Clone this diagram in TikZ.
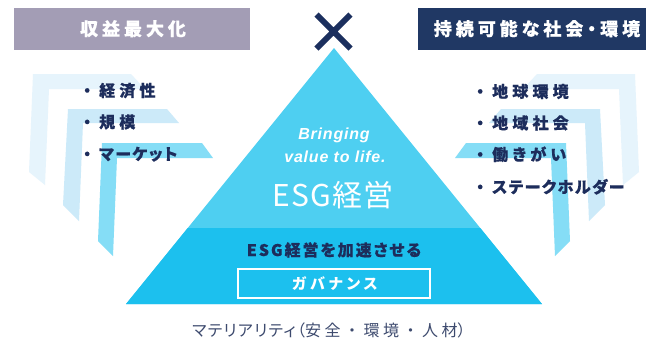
\documentclass[tikz,border=0pt]{standalone}
\usepackage{fontspec}
\newfontfamily\jpH[LetterSpace=22,RawFeature=+palt,BoldFeatures={FakeBold=0.5}]{Noto Sans CJK JP}
\newfontfamily\jpB[LetterSpace=26,BoldFeatures={FakeBold=0.5}]{Noto Sans CJK JP}
\newfontfamily\jpIk[LetterSpace=26,RawFeature=+palt,BoldFeatures={FakeBold=0.5}]{Noto Sans CJK JP}
\newfontfamily\jpIa[LetterSpace=9,RawFeature=+palt,BoldFeatures={FakeBold=0.5}]{Noto Sans CJK JP}
\newfontfamily\jpM[LetterSpace=12,RawFeature=+palt,BoldFeatures={FakeBold=0.4}]{Noto Sans CJK JP}
\newfontfamily\jpG[LetterSpace=25,RawFeature=+palt]{Noto Sans CJK JP}
\newfontfamily\jpE[LetterSpace=4]{Noto Sans CJK JP}
\newfontfamily\jpLa[LetterSpace=8,RawFeature=+palt]{Noto Sans CJK JP}
\newfontfamily\jpLb[LetterSpace=22]{Noto Sans CJK JP}
\newfontfamily\latf[LetterSpace=5]{Liberation Sans}
\definecolor{hdrgray}{HTML}{A39DB5}
\definecolor{hdrnavy}{HTML}{203864}
\definecolor{navy}{HTML}{1D2D5C}
\definecolor{xnavy}{HTML}{1B2F5E}
\definecolor{triup}{HTML}{4ECFF1}
\definecolor{trilow}{HTML}{1CC0EE}
\definecolor{bandA}{HTML}{E6F4FC}
\definecolor{bandB}{HTML}{CCEAF9}
\definecolor{bandC}{HTML}{85DDF6}
\definecolor{bottxt}{HTML}{3D4A6E}
\newcommand\itk[1]{{\jpB ・}\hspace{4pt}\jpIk #1}
\newcommand\ita[1]{{\jpB ・}\hspace{4pt}\jpIa #1}
\tikzset{
  hdr/.style={anchor=base, text=white, inner sep=0, font=\jpH\bfseries\fontsize{18}{20}\selectfont},
  item/.style={anchor=base west, text=navy, inner sep=0, font=\jpB\bfseries\fontsize{16}{18}\selectfont},
  slogan/.style={anchor=base, text=white, inner sep=0, font=\latf\bfseries\itshape\fontsize{16}{18}\selectfont},
}
\begin{document}
\begin{tikzpicture}[x=1pt,y=-1pt]
\useasboundingbox (0,0) rectangle (646,341);
\fill[white] (0,0) rectangle (646,341);
% headers
\fill[hdrgray] (14,8) rectangle (250,50);
\fill[hdrnavy] (418,8) rectangle (646,50);
\node[hdr] (hL) at (133,35.5) {収益最大化};
\node[hdr] (hR) at (537,35.5) {持続可能な社会・環境};
% bands left
\fill[bandA] (33,74) -- (131,74) -- (145,89) -- (49,89) -- (45,185) -- (29,172) -- cycle;
\fill[bandB] (68,109) -- (167,109) -- (179,123) -- (83,123) -- (79,221) -- (63,205) -- cycle;
\fill[bandC] (102,143) -- (202,143) -- (213,158) -- (117,158) -- (113,256) -- (98,241) -- cycle;
% bands right (mirrored)
\begin{scope}[xshift=668pt, xscale=-1]
\fill[bandA] (33,74) -- (131,74) -- (145,89) -- (49,89) -- (45,185) -- (29,172) -- cycle;
\fill[bandB] (68,109) -- (167,109) -- (179,123) -- (83,123) -- (79,221) -- (63,205) -- cycle;
\fill[bandC] (102,143) -- (202,143) -- (213,158) -- (117,158) -- (113,256) -- (98,241) -- cycle;
\end{scope}
% cross
\draw[xnavy, line width=6pt] (316.5,14.5) -- (350.5,48.5) (350.5,14.5) -- (316.5,48.5);
% pyramid
\fill[triup] (334,48) -- (542,304) -- (126,304) -- cycle;
\fill[trilow] (187.75,228) -- (480.25,228) -- (542,304) -- (126,304) -- cycle;
% pyramid texts
\node[slogan] (s1) at (334,139) {Bringing};
\node[slogan] (s2) at (335,162) {value to life.};
\node[anchor=base, text=white, inner sep=0, font=\jpE\fontsize{30}{32}\selectfont] (esg) at (333,206) {ESG経営};
\node[anchor=base, text=navy, inner sep=0, font=\jpM\bfseries\fontsize{16}{18}\selectfont] (acc) at (334,256) {ESG経営を加速させる};
\draw[white, line width=1.3pt] (238,269) rectangle (430,298);
\node[anchor=base, text=white, inner sep=0, font=\jpG\bfseries\fontsize{15}{18}\selectfont] (gov) at (335,289) {ガバナンス};
\node[anchor=base west, text=bottxt, inner sep=0, font=\fontsize{16}{18}\selectfont] (mat) at (192,336.5) {{\jpLa マテリアリティ（}{\jpLb 安全・環境・人材}{\jpLa ）}};
% lists
\node[item] (l1) at (79,96.5) {\itk{経済性}};
\node[item] (l2) at (79,128) {\itk{規模}};
\node[item] (l3) at (79,160) {\ita{マーケット}};
\node[item] (r1) at (472,97.5) {\itk{地球環境}};
\node[item] (r2) at (472,129) {\itk{地域社会}};
\node[item] (r3) at (472,160.5) {\itk{働きがい}};
\node[item] (r4) at (472,193) {\ita{ステークホルダー}};
\end{tikzpicture}
\end{document}
